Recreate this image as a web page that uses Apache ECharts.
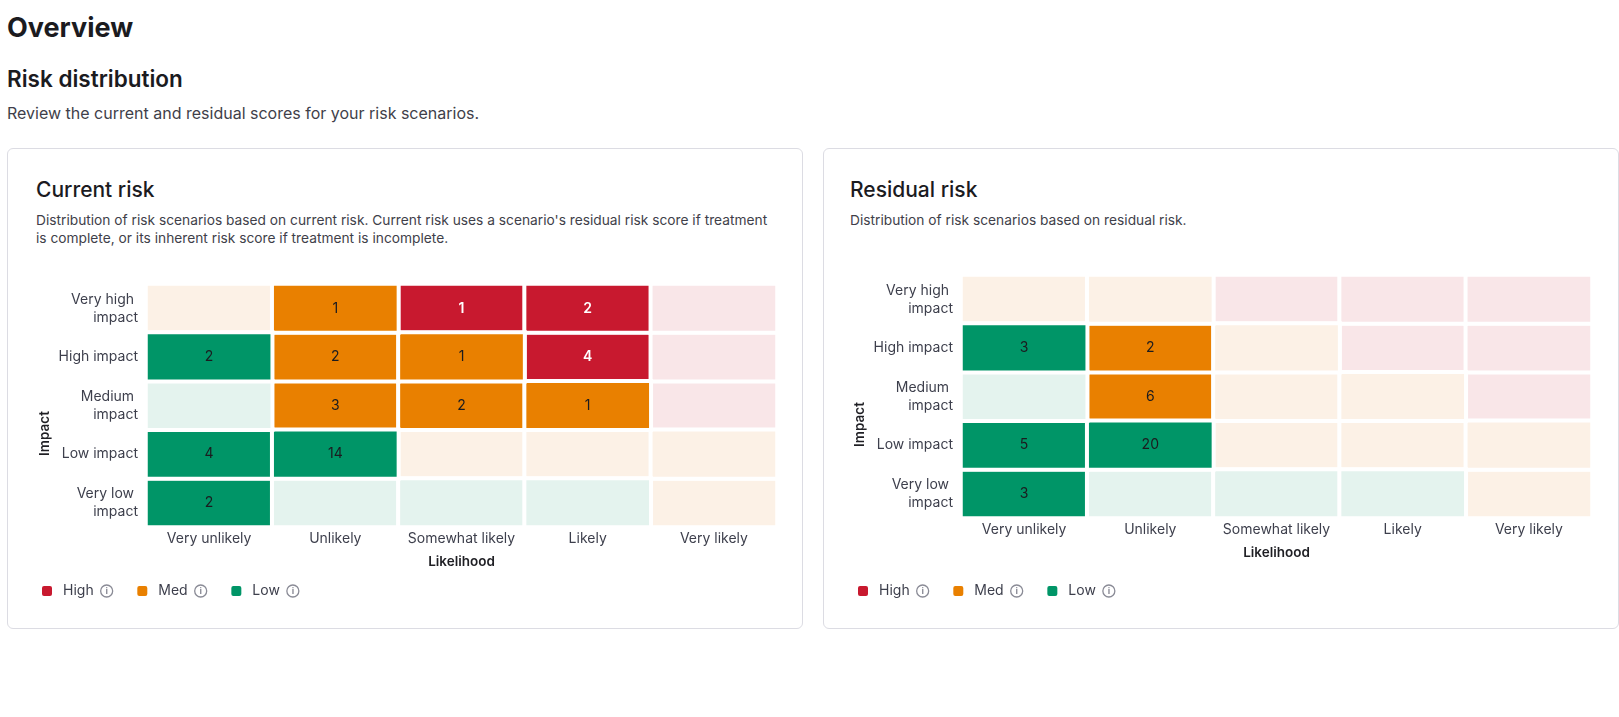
<!DOCTYPE html>
<html>
<head>
<meta charset="utf-8">
<title>Overview</title>
<script src="https://cdn.jsdelivr.net/npm/echarts@6/dist/echarts.min.js"></script>
<style>
  html, body { margin: 0; padding: 0; background: #fff; }
  body { width: 1619px; height: 717px; position: relative; overflow: hidden; font-family: Inter, 'Noto Sans', sans-serif; color: #1b1b1f; }
  .txt { position: absolute; white-space: nowrap; }
  .h1 { left: 7px; top: 11px; font-size: 27px; line-height: 34px; font-weight: 700; }
  .h2 { left: 7px; top: 64px; font-size: 22.5px; line-height: 30px; font-weight: 600; }
  .lead { left: 7px; top: 102px; font-size: 16px; line-height: 22px; color: #3f3f4a; }
  .card { position: absolute; top: 148px; width: 796px; height: 481px; box-sizing: border-box; border: 1px solid #dcdce3; border-radius: 6px; background: #fff; }
  .ctitle { top: 177px; font-size: 21px; line-height: 26px; font-weight: 500; }
  .cdesc { top: 211px; font-size: 13.75px; line-height: 18px; color: #3f3f4a; white-space: normal; width: 740px; }
  #chart { position: absolute; left: 0; top: 0; width: 1619px; height: 717px; }
</style>
</head>
<body>
<div class="txt h1">Overview</div>
<div class="txt h2">Risk distribution</div>
<div class="txt lead">Review the current and residual scores for your risk scenarios.</div>

<div class="card" style="left:7px"></div>
<div class="card" style="left:823px"></div>

<div class="txt ctitle" style="left:36px">Current risk</div>
<div class="txt cdesc" style="left:36px">Distribution of risk scenarios based on current risk. Current risk uses a scenario's residual risk score if treatment is complete, or its inherent risk score if treatment is incomplete.</div>
<div class="txt ctitle" style="left:850px">Residual risk</div>
<div class="txt cdesc" style="left:850px">Distribution of risk scenarios based on residual risk.</div>

<div id="chart"></div>

<script>
// axes
var likelihood = ['Very unlikely', 'Unlikely', 'Somewhat likely', 'Likely', 'Very likely'];
var impact = ['Very low impact', 'Low impact', 'Medium impact', 'High impact', 'Very high impact'];

// risk level of each cell, rows from "Very low impact" up to "Very high impact"
var riskLevels = [
    ['Low', 'Low', 'Low', 'Low', 'Med'],
    ['Low', 'Low', 'Med', 'Med', 'Med'],
    ['Low', 'Med', 'Med', 'Med', 'High'],
    ['Low', 'Med', 'Med', 'High', 'High'],
    ['Med', 'Med', 'High', 'High', 'High']
];

// number of scenarios per cell, same row order
var currentCounts = [
    [2, 0, 0, 0, 0],
    [4, 14, 0, 0, 0],
    [0, 3, 2, 1, 0],
    [2, 2, 1, 4, 0],
    [0, 1, 1, 2, 0]
];
var residualCounts = [
    [3, 0, 0, 0, 0],
    [5, 20, 0, 0, 0],
    [0, 6, 0, 0, 0],
    [3, 2, 0, 0, 0],
    [0, 0, 0, 0, 0]
];

var levelNames = ['High', 'Med', 'Low'];

var colors = {
    High: { full: '#c8192f', tint: '#f9e6e8', text: '#ffffff' },
    Med:  { full: '#e98000', tint: '#fcf1e6', text: '#1b1b1f' },
    Low:  { full: '#009567', tint: '#e4f3ee', text: '#1b1b1f' }
};

function buildSeries(counts, idx) {
    return levelNames.map(function (level) {
        var data = [];
        for (var y = 0; y < impact.length; y++) {
            for (var x = 0; x < likelihood.length; x++) {
                if (riskLevels[y][x] !== level) continue;
                var n = counts[y][x];
                data.push({
                    value: [x, y, n],
                    itemStyle: { color: n ? colors[level].full : colors[level].tint },
                    label: { color: colors[level].text }
                });
            }
        }
        return {
            name: level,
            type: 'heatmap',
            xAxisIndex: idx,
            yAxisIndex: idx,
            data: data,
            itemStyle: { color: colors[level].full, borderColor: '#fff', borderWidth: 4 },
            label: {
                show: true,
                fontSize: 14,
                fontFamily: 'Inter',
                fontWeight: level === 'High' ? 600 : 400,
                formatter: function (p) { return p.value[2] ? p.value[2] : ''; }
            },
            emphasis: { disabled: true }
        };
    });
}

function xAxis(idx) {
    return {
        type: 'category',
        gridIndex: idx,
        data: likelihood,
        axisLine: { show: false },
        axisTick: { show: false },
        splitLine: { show: false },
        axisLabel: { color: '#3d3f4c', fontSize: 14, margin: 5, interval: 0 },
        name: 'Likelihood',
        nameLocation: 'middle',
        nameGap: 28,
        nameTextStyle: { color: '#1f1f24', fontSize: 13.5, fontWeight: 600 }
    };
}

function yAxis(idx) {
    return {
        type: 'category',
        gridIndex: idx,
        data: impact,
        axisLine: { show: false },
        axisTick: { show: false },
        splitLine: { show: false },
        axisLabel: {
            color: '#3d3f4c', fontSize: 14, margin: 8, interval: 0,
            width: 82, overflow: 'break', lineHeight: 18, align: 'right'
        },
        name: 'Impact',
        nameLocation: 'middle',
        nameGap: 94,
        nameTextStyle: { color: '#1f1f24', fontSize: 13.5, fontWeight: 600, padding: [0, 56, 0, 0] }
    };
}

function legend(left) {
    return {
        left: left,
        top: 584,
        padding: 0,
        icon: 'roundRect',
        itemWidth: 12,
        itemHeight: 12,
        itemGap: 22,
        selectedMode: false,
        data: levelNames,
        formatter: function (name) { return '{n|' + name + '}{i|i}'; },
        textStyle: {
            rich: {
                n: { color: '#3d3f4c', fontSize: 14, fontFamily: 'Inter', padding: [0, 7, 0, 5] },
                i: {
                    color: '#8a8b96', fontSize: 9, fontWeight: 'bold', fontFamily: 'Inter',
                    width: 12, height: 12, lineHeight: 12, align: 'center',
                    borderColor: '#8a8b96', borderWidth: 1.3, borderRadius: 7
                }
            }
        }
    };
}

var chart = echarts.init(document.getElementById('chart'));
chart.setOption({
    backgroundColor: 'transparent',
    animation: false,
    textStyle: { fontFamily: 'Inter' },
    grid: [
        { left: 146, top: 284, width: 631, height: 243 },
        { left: 961, top: 275, width: 631, height: 243 }
    ],
    xAxis: [xAxis(0), xAxis(1)],
    yAxis: [yAxis(0), yAxis(1)],
    legend: [legend(40), legend(856)],
    series: buildSeries(currentCounts, 0).concat(buildSeries(residualCounts, 1))
});
</script>
</body>
</html>
